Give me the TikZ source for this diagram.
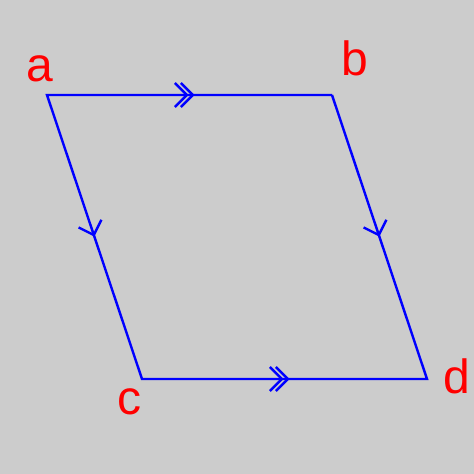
\documentclass[tikz,border=0pt]{standalone}
\usepackage{fontspec}
\setmainfont{Liberation Sans}
\usetikzlibrary{decorations.markings}
\definecolor{bg}{RGB}{204,204,204}
\tikzset{
  edge/.style={draw=blue, line width=2.4pt},
  chev/.style={blue, line width=2.4pt, line join=miter},
  single/.style={postaction={decorate, decoration={markings,
     mark=at position #1 with {\draw[chev] (-12pt,12pt) -- (0,0) -- (-12pt,-12pt);}}}},
  double/.style={postaction={decorate, decoration={markings,
     mark=at position #1 with {\draw[chev] (-12pt,12pt) -- (0,0) -- (-12pt,-12pt);
                                \draw[chev] (-18pt,12pt) -- (-6pt,0) -- (-18pt,-12pt);}}}},
  lab/.style={text=red, font=\fontsize{48}{48}\selectfont, inner sep=0pt, anchor=base}
}
\begin{document}
\begin{tikzpicture}[x=1pt,y=-1pt]
\fill[bg] (0,0) rectangle (474,474);
\useasboundingbox (0,0) rectangle (474,474);
\coordinate (a) at (47,95);
\coordinate (b) at (332,95);
\coordinate (c) at (142,379);
\coordinate (d) at (427,379);
\draw[edge, line join=miter] (b) -- (a) -- (c) -- (d) -- (b);
\path[double=0.512] (a) -- (b);
\path[double=0.512] (c) -- (d);
\path[single=0.493] (a) -- (c);
\path[single=0.493] (b) -- (d);
\node[lab] (la) at (40,81) {a};
\node[lab] (lb) at (355,75) {b};
\node[lab] (lc) at (129,414) {c};
\node[lab] (ld) at (457,393) {d};
\end{tikzpicture}
\end{document}
